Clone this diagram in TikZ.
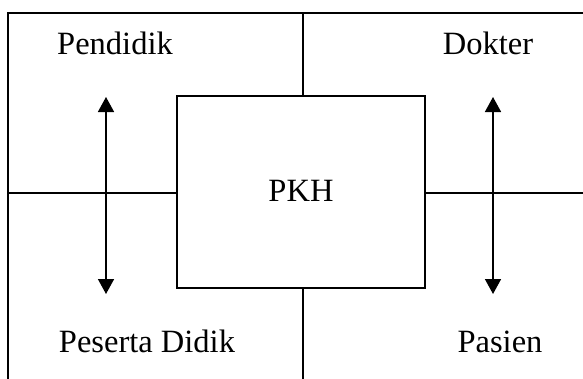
\documentclass[tikz,border=0pt]{standalone}
\usepackage{fontspec}
\setmainfont{Liberation Serif}
\usetikzlibrary{arrows.meta}
\begin{document}
\begin{tikzpicture}[x=1pt,y=-1pt,
  frame/.style={line width=1.8pt,line cap=rect},
  lbl/.style={font=\fontsize{32.5}{38}\selectfont,inner sep=0pt,anchor=base},
  arr/.style={line width=1.6pt,{Triangle[width=16pt,length=15pt]}-{Triangle[width=16pt,length=15pt]}}]
\useasboundingbox (0,0) rectangle (583,378);
\node[draw,line width=1.8pt,minimum width=248pt,minimum height=192pt,inner sep=0pt] (pkh) at (301.2,192.3) {};
\node[lbl] (pkht) at (301,201) {PKH};
\coordinate (tl) at (8,13);
\coordinate (tr) at (583,13);
\coordinate (bl) at (8,378);
\coordinate (tm) at (302.7,13);
\coordinate (bm) at (302.7,378);
\coordinate (ml) at (8,192.7);
\coordinate (mr) at (583,192.7);
\draw[frame] (bl) -- (tl) -- (tr);
\draw[frame] (tm) -- (tm |- pkh.north);
\draw[frame] (bm |- pkh.south) -- (bm);
\draw[frame] (ml) -- (ml -| pkh.west);
\draw[frame] (mr -| pkh.east) -- (mr);
\node[lbl] (pend) at (115,54) {Pendidik};
\node[lbl] (dok) at (488,54) {Dokter};
\node[lbl] (pes) at (147,352) {Peserta Didik};
\node[lbl] (pas) at (500,352) {Pasien};
\coordinate (la) at (106,97);
\coordinate (lb) at (106,294);
\coordinate (ra) at (493,97);
\coordinate (rb) at (493,294);
\draw[arr] (la) -- (lb);
\draw[arr] (ra) -- (rb);
\end{tikzpicture}
\end{document}
